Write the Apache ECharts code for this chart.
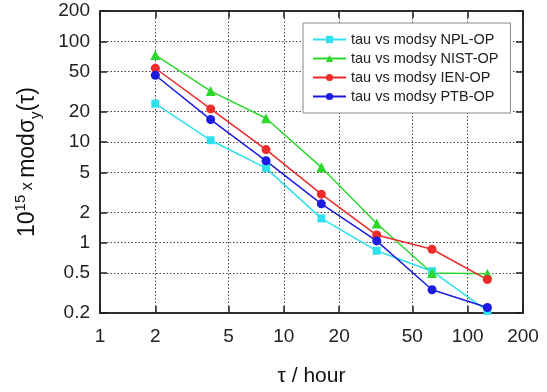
<!DOCTYPE html>
<html>
<head>
<meta charset="utf-8">
<script src="https://cdn.jsdelivr.net/npm/echarts@6/dist/echarts.min.js"></script>
<style>
html,body{margin:0;padding:0;background:#fff;}
#chart{width:547px;height:392px;}
</style>
</head>
<body>
<div id="chart"></div>
<script>
const tau = [2, 4, 8, 16, 32, 64, 128];
const nplOP  = [24, 10.4, 5.5, 1.74, 0.83, 0.52, 0.21];
const nistOP = [73, 32, 17.2, 5.6, 1.55, 0.50, 0.49];
const ienOP  = [54, 21.3, 8.4, 3.03, 1.19, 0.86, 0.43];
const ptbOP  = [46, 16.7, 6.5, 2.43, 1.04, 0.34, 0.227];
const xTicks = [1, 2, 5, 10, 20, 50, 100, 200];
const yTicks = [0.2, 0.5, 1, 2, 5, 10, 20, 50, 100, 200];
const seriesNames = ['tau vs modsy NPL-OP', 'tau vs modsy NIST-OP', 'tau vs modsy IEN-OP', 'tau vs modsy PTB-OP'];

const pairs = ys => tau.map((t, i) => [t, ys[i]]);
const font = 'Liberation Sans, Arial, sans-serif';
const gridLine = {show: true, lineStyle: {color: '#444', width: 1, type: [1.5, 2]}};

function mkSeries(name, ys, color, symbol, size) {
  return {
    name, type: 'line', data: pairs(ys),
    symbol, symbolSize: size,
    lineStyle: {color, width: 1.5},
    itemStyle: {color},
    emphasis: {disabled: true},
    animation: false
  };
}

const chart = echarts.init(document.getElementById('chart'), null, {renderer: 'canvas'});
chart.setOption({
  animation: false,
  textStyle: {fontFamily: font},
  grid: {left: 100, right: 24, top: 11, bottom: 77, show: true, borderColor: '#222', borderWidth: 1.5, backgroundColor: '#fff'},
  legend: {
    data: seriesNames,
    orient: 'vertical', left: 303, top: 23,
    padding: [9, 12, 9, 9],
    itemWidth: 33, itemHeight: 9, itemGap: 4,
    borderColor: '#888', borderWidth: 1, backgroundColor: '#fff',
    textStyle: {fontSize: 14.5, color: '#222', fontFamily: font, lineHeight: 14}
  },
  xAxis: [{
    type: 'log', logBase: 10, min: 1, max: 200,
    name: 'τ / hour', nameLocation: 'middle', nameGap: 53,
    nameTextStyle: {fontSize: 21, color: '#111', fontFamily: font},
    axisLine: {show: true, lineStyle: {color: '#222', width: 1.5}},
    axisTick: {show: true, inside: true, length: 7, customValues: xTicks, lineStyle: {color: '#222', width: 1.5}},
    axisLabel: {customValues: xTicks, fontSize: 19, color: '#222', margin: 14, fontFamily: font},
    splitLine: gridLine, minorTick: {show: false}
  }, {
    type: 'log', logBase: 10, min: 1, max: 200, position: 'top',
    axisLine: {show: true, lineStyle: {color: '#222', width: 1.5}},
    axisTick: {show: true, inside: true, length: 7, customValues: xTicks, lineStyle: {color: '#222', width: 1.5}},
    axisLabel: {show: false}, splitLine: {show: false}
  }],
  yAxis: [{
    type: 'log', logBase: 10, min: 0.2, max: 200,
    name: '10{sup|15}{x| x }modσ{sub|y}(τ)', nameLocation: 'middle', nameGap: 57, nameRotate: 90,
    nameTextStyle: {
      fontSize: 23, color: '#111', fontFamily: font, lineHeight: 30,
      rich: {
        sup: {fontSize: 15, color: '#111', fontFamily: font, verticalAlign: 'top', lineHeight: 15},
        sub: {fontSize: 15, color: '#111', fontFamily: font, verticalAlign: 'bottom', lineHeight: 15},
        x: {fontSize: 16, color: '#111', fontFamily: font}
      }
    },
    axisLine: {show: true, lineStyle: {color: '#222', width: 1.5}},
    axisTick: {show: true, inside: true, length: 7, customValues: yTicks, lineStyle: {color: '#222', width: 1.5}},
    axisLabel: {customValues: yTicks, fontSize: 19, color: '#222', margin: 10, fontFamily: font},
    splitLine: gridLine, minorTick: {show: false}
  }, {
    type: 'log', logBase: 10, min: 0.2, max: 200, position: 'right',
    axisLine: {show: true, lineStyle: {color: '#222', width: 1.5}},
    axisTick: {show: true, inside: true, length: 7, customValues: yTicks, lineStyle: {color: '#222', width: 1.5}},
    axisLabel: {show: false}, splitLine: {show: false}
  }],
  series: [
    mkSeries(seriesNames[0], nplOP, '#2fe0ee', 'rect', 8),
    mkSeries(seriesNames[1], nistOP, '#2ed62e', 'triangle', 10),
    mkSeries(seriesNames[2], ienOP, '#ee2a2a', 'circle', 9),
    mkSeries(seriesNames[3], ptbOP, '#1c1ce0', 'circle', 9)
  ]
});
</script>
</body>
</html>
